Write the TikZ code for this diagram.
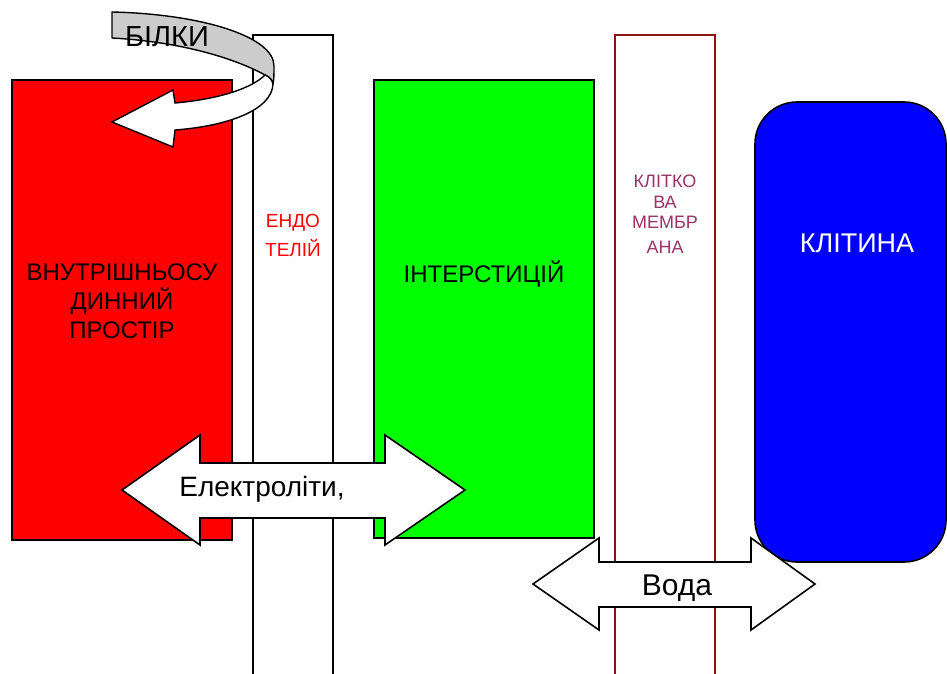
\documentclass[tikz,border=0pt]{standalone}
\usepackage{fontspec}
\setmainfont{Liberation Sans}
\begin{document}
\begin{tikzpicture}[x=1pt,y=-1pt,
  wall/.style={line width=1.6pt},
  thinwall/.style={line width=1.4pt, draw=membrane},
  bigarrow/.style={draw=black, fill=white, line width=1.6pt, line join=miter},
  lbl/.style={inner sep=0pt, align=center, font=\fontsize{#1}{#1}\selectfont},
  lbl/.default=27]
\definecolor{membrane}{HTML}{8B1414}
\definecolor{membranetext}{HTML}{993366}
\definecolor{bandgray}{HTML}{CCCCCC}
\useasboundingbox (0,0) rectangle (947,674);

% compartments
\path[fill=red, draw=black, wall] (12,80) rectangle (232,540);
\path[fill=white] (253,35) rectangle (333,680);
\draw[wall] (253,680) -- (253,35) -- (333,35) -- (333,680);
\path[fill=green, draw=black, wall] (374,80) rectangle (594,538);
\path[fill=white] (615,35) rectangle (715,680);
\draw[thinwall] (615,680) -- (615,35) -- (715,35) -- (715,680);
\path[fill=blue, draw=black, wall, rounded corners=42pt] (755,102) rectangle (946,562);

% compartment labels
\node[lbl=24, text=black] (plasma) at (122,301)
  {ВНУТРІШНЬОСУ\\[5pt]ДИННИЙ\\[5pt]ПРОСТІР};
\node[lbl=19, text=red] (endo) at (293,235) {ЕНДО\\[7pt]ТЕЛІЙ};
\node[lbl=24, text=black] (inter) at (484,274) {ІНТЕРСТИЦІЙ};
\node[lbl=18, text=membranetext] (memb) at (665,214)
  {КЛІТКО\\[3pt]ВА\\[2pt]МЕМБР\\[7pt]АНА};
\node[lbl=27, text=white] (cell) at (857,243) {КЛІТИНА};

% curved protein arrow: back band
\path[draw=black, fill=bandgray, line width=1.4pt, line join=round]
  (112,12) .. controls (200,14) and (274,36) .. (274,66)
  .. controls (274,74) and (274,79) .. (273,84)
  .. controls (272,80) and (270,77) .. (265,75)
  .. controls (238,60) and (185,42) .. (112,38) -- cycle;
% curved protein arrow: front band with head
\path[draw=black, fill=white, line width=1.4pt, line join=miter]
  (265,75) .. controls (252,88) and (220,99) .. (175,103)
  -- (173,90) -- (112,122) -- (173,147) -- (175,130)
  .. controls (228,126) and (272,110) .. (273,84)
  .. controls (272,80) and (270,77) .. (265,75) -- cycle;
\node[lbl=29, text=black] (prot) at (167,37) {БІЛКИ};

% electrolytes exchange arrow
\path[bigarrow] (122,490) -- (200,435) -- (200,463) -- (385,463) -- (385,435)
  -- (465,490) -- (385,545) -- (385,518) -- (200,518) -- (200,545) -- cycle;
\node[lbl=28, text=black] (electro) at (262,489) {Електроліти,};

% water exchange arrow
\path[bigarrow] (533,584) -- (599,538) -- (599,562) -- (751,562) -- (751,538)
  -- (815,584) -- (751,630) -- (751,607) -- (599,607) -- (599,630) -- cycle;
\node[lbl=30, text=black] (water) at (677,588) {Вода};
\end{tikzpicture}
\end{document}
